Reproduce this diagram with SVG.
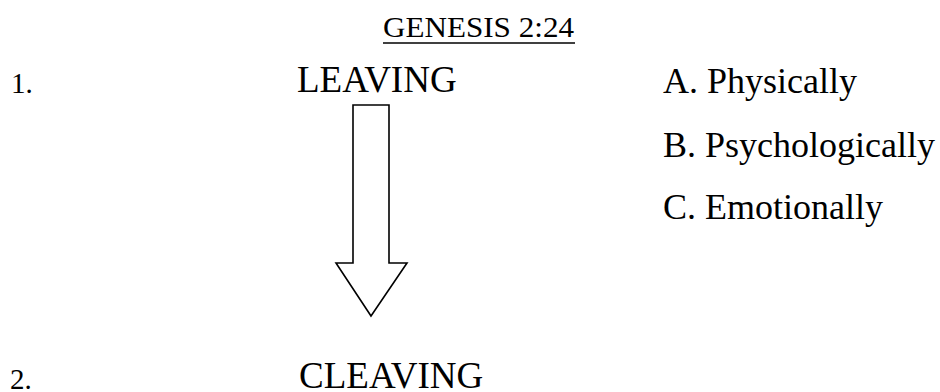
<svg xmlns="http://www.w3.org/2000/svg" width="940" height="392" viewBox="0 0 940 392">
<style>
text{font-family:"Liberation Serif","Times New Roman",serif;fill:#000}
.big{font-size:37px}
.item{font-size:36px}
.num{font-size:29px}
.arrow{fill:#fff;stroke:#000;stroke-width:1.6;stroke-linejoin:miter}
</style>
<rect width="940" height="392" fill="#fff"/>
<g id="title">
<text x="383" y="37" font-size="30" textLength="191" lengthAdjust="spacingAndGlyphs">GENESIS 2:24</text>
<line x1="383" y1="43" x2="575" y2="43" stroke="#000" stroke-width="1.5"/>
</g>
<g id="leaving">
<text class="num" x="11" y="93">1.</text>
<text class="big" x="297" y="92">LEAVING</text>
</g>
<g id="list">
<text class="item" x="663" y="93">A. Physically</text>
<text class="item" x="663" y="157">B. Psychologically</text>
<text class="item" x="663" y="219">C. Emotionally</text>
</g>
<g id="connectors">
<polygon class="arrow" points="353,105 389,105 389,263 407,263 371,316 336,263 353,263"/>
</g>
<g id="cleaving">
<text class="num" x="10" y="389">2.</text>
<text class="big" x="299" y="388">CLEAVING</text>
</g>
</svg>
